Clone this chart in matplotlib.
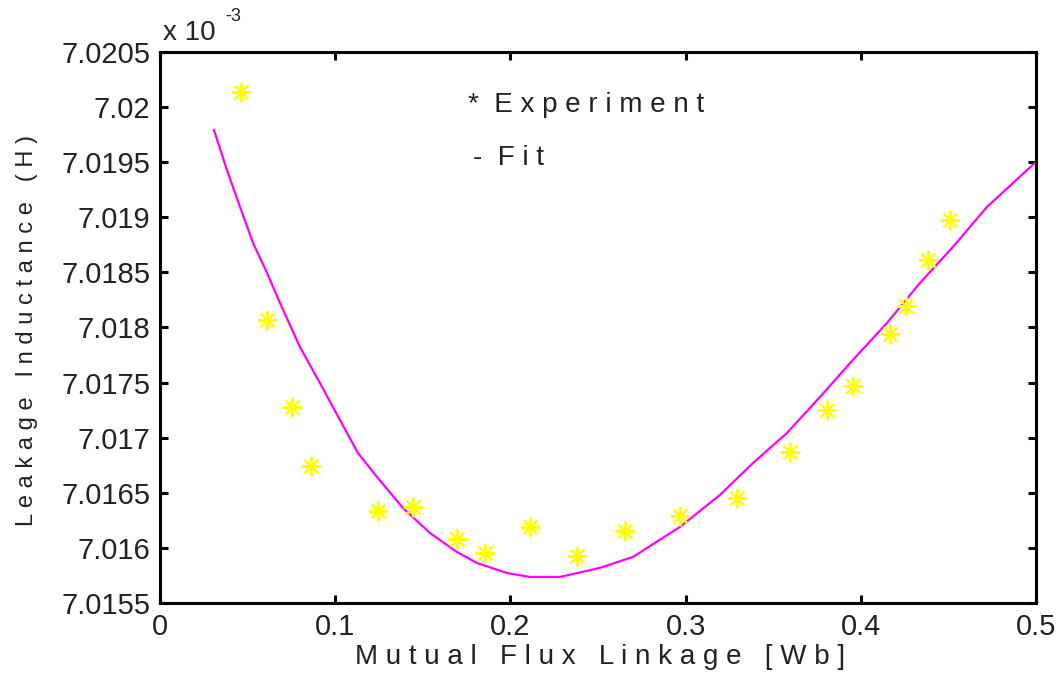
import matplotlib
matplotlib.use('Agg')
import matplotlib.pyplot as plt
import numpy as np

plt.rcParams['font.family'] = ['Liberation Sans', 'DejaVu Sans']

# Experiment points (x in Wb, y in units of 1e-3 H)
flux_exp = [0.0462, 0.0611, 0.0753, 0.0862, 0.1244, 0.1444, 0.1695, 0.1855, 0.2112, 0.2380,
            0.2654, 0.2968, 0.3293, 0.3596, 0.3807, 0.3955, 0.4167, 0.4258, 0.4384, 0.4509]
ind_exp = [7.020137, 7.018068, 7.017279, 7.016743, 7.016335, 7.016371, 7.016081, 7.015954, 7.016190, 7.015927,
           7.016153, 7.016289, 7.016453, 7.016870, 7.017251, 7.017469, 7.017941, 7.018195, 7.018612, 7.018975]

# Fit curve
flux_fit = [0.0308, 0.0382, 0.0457, 0.0531, 0.0611, 0.0685, 0.0799, 0.0913, 0.1027, 0.1130,
            0.1239, 0.1387, 0.1541, 0.1695, 0.1809, 0.1981, 0.2112, 0.2283, 0.2511, 0.2700,
            0.2968, 0.3196, 0.3385, 0.3579, 0.3767, 0.3955, 0.4150, 0.4338, 0.4526, 0.4720, 0.4994]
ind_fit = [7.019792, 7.019429, 7.019093, 7.018767, 7.018495, 7.018222, 7.017823, 7.017496, 7.017161, 7.016861,
           7.016643, 7.016362, 7.016135, 7.015963, 7.015863, 7.015772, 7.015736, 7.015736, 7.015818, 7.015918,
           7.016190, 7.016480, 7.016770, 7.017043, 7.017369, 7.017705, 7.018041, 7.018404, 7.018730, 7.019093,
           7.019493]

xticks = [0, 0.1, 0.2, 0.3, 0.4, 0.5]
xticklabels = ['0', '0.1', '0.2', '0.3', '0.4', '0.5']
yticks = [7.0155, 7.016, 7.0165, 7.017, 7.0175, 7.018, 7.0185, 7.019, 7.0195, 7.02, 7.0205]
yticklabels = ['7.0155', '7.016', '7.0165', '7.017', '7.0175', '7.018', '7.0185', '7.019', '7.0195', '7.02', '7.0205']

fig = plt.figure(figsize=(10.57, 6.75), dpi=100)
ax = fig.add_axes([0.1514, 0.1067, 0.8287, 0.8163])

ax.plot(flux_fit, ind_fit, color='#FF00FF', linewidth=1.6)
ax.plot(flux_exp, ind_exp, linestyle='none', marker=(8, 2, 0), markersize=14,
        markeredgewidth=1.6, color='#FFFF00', markeredgecolor='#FFFF00')

ax.set_xlim(0, 0.5)
ax.set_ylim(7.0155, 7.0205)
ax.set_xticks(xticks)
ax.set_xticklabels(xticklabels)
ax.set_yticks(yticks)
ax.set_yticklabels(yticklabels)
ax.tick_params(direction='in', length=6, width=2.2, labelsize=21, labelcolor='#222222',
               top=True, right=True, pad=7)
for s in ax.spines.values():
    s.set_linewidth(2.2)

ax.set_xlabel('M u t u a l   F l u x   L i n k a g e   [ W b ]', fontsize=20, color='#222222')
ax.xaxis.set_label_coords(0.502, -0.074)
ax.set_ylabel('L e a k a g e   I n d u c t a n c e   ( H )', fontsize=17, color='#222222')
ax.yaxis.set_label_coords(-0.139, 0.494)

# exponent label
ax.text(0.003, 1.022, 'x 10', transform=ax.transAxes, fontsize=20, color='#222222',
        ha='left', va='baseline')
ax.text(0.074, 1.056, '-3', transform=ax.transAxes, fontsize=13, color='#222222',
        ha='left', va='baseline')

# text legend
ax.text(0.352, 0.904, '*  E x p e r i m e n t', transform=ax.transAxes, fontsize=20,
        color='#222222', ha='left', va='center')
ax.text(0.357, 0.808, '-  F i t', transform=ax.transAxes, fontsize=20,
        color='#222222', ha='left', va='center')

plt.savefig('out.png', dpi=100)
